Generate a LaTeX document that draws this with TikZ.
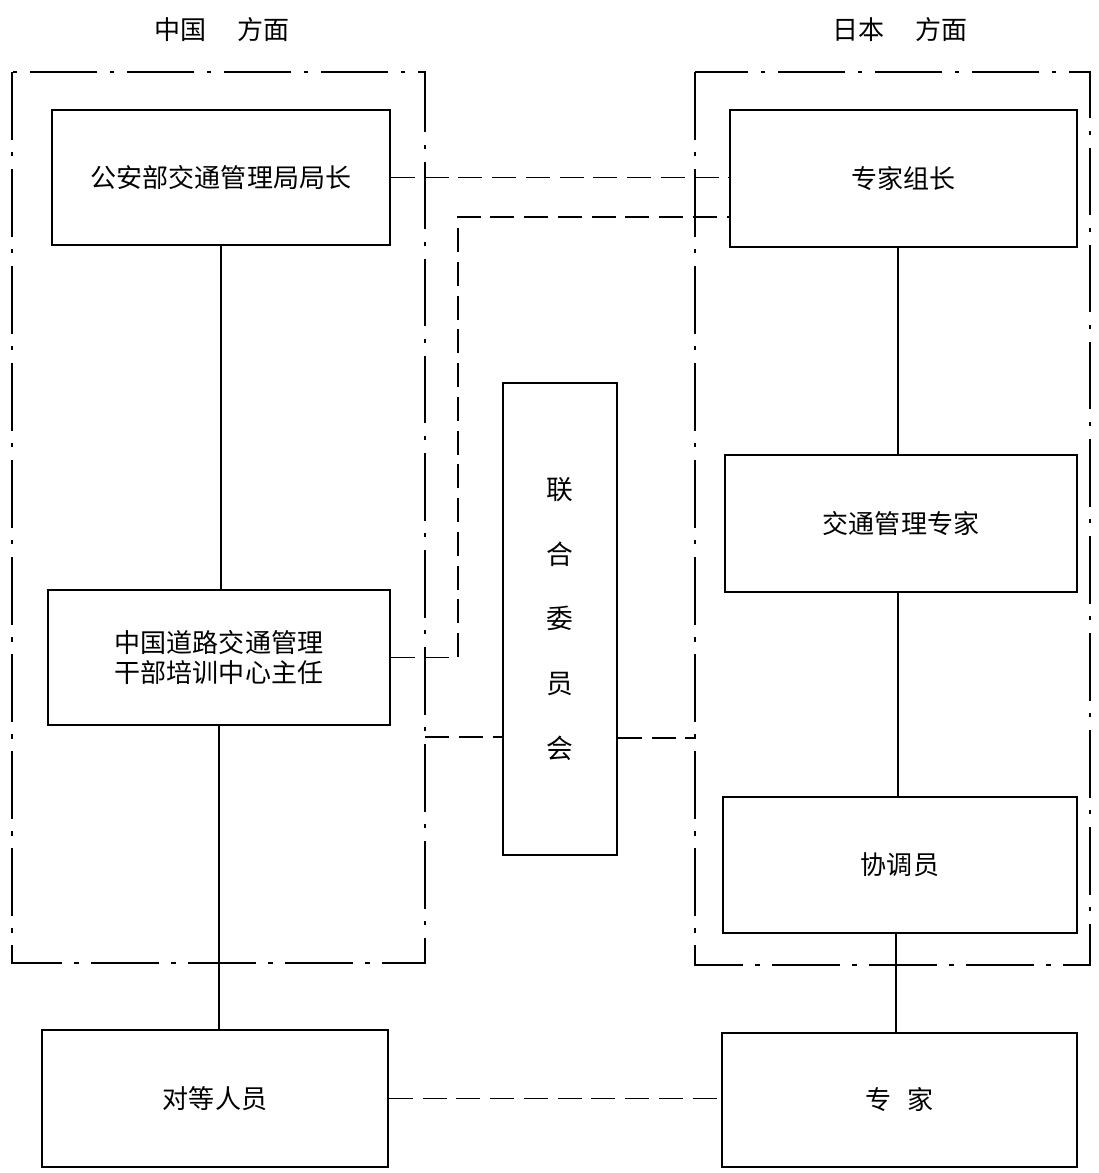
\documentclass[tikz,border=0pt]{standalone}
\usepackage{fontspec}
\setmainfont{Noto Sans CJK SC}
\usepackage{tikz}
\usetikzlibrary{arrows.meta,positioning,calc}

\begin{document}
\begin{tikzpicture}[
x=0.025cm,y=-0.025cm,
unit/.style={draw,line width=1.3pt,font=\fontsize{18.5}{22}\selectfont,align=center,inner sep=2pt},
frame/.style={line width=1.3pt,dash pattern=on 48pt off 9pt on 3pt off 9pt},
link/.style={line width=0.9pt,dash pattern=on 17pt off 7pt},
tie/.style={line width=1.1pt}
]
\useasboundingbox (0,0) rectangle (1099,1173);
% side frames
\draw[frame] (12,72) rectangle (425,963);
\draw[frame] (695,72) rectangle (1090,965);
\node[font=\fontsize{18.5}{22}\selectfont] (cnhead) at (222,30) {中国\hspace{1.2em}方面};
\node[font=\fontsize{18.5}{22}\selectfont] (jphead) at (900,30) {日本\hspace{1.2em}方面};
% Chinese side
\node[unit,minimum width=8.45cm,minimum height=3.375cm] (chief) at (221,177.5) {公安部交通管理局局长};
\node[unit,minimum width=8.55cm,minimum height=3.375cm] (centre) at (219,657.5) {中国道路交通管理\\干部培训中心主任};
\node[unit,minimum width=8.65cm,minimum height=3.425cm] (peer) at (215,1098.5) {对等人员};
% Japanese side
\node[unit,minimum width=8.675cm,minimum height=3.425cm] (leader) at (903.5,178.5) {专家组长};
\node[unit,minimum width=8.8cm,minimum height=3.425cm] (tmexp) at (901,523.5) {交通管理专家};
\node[unit,minimum width=8.85cm,minimum height=3.4cm] (coord) at (900,865) {协调员};
\node[unit,minimum width=8.875cm,minimum height=3.35cm] (expert) at (899.5,1100) {专\hspace{0.6em}家};
% joint committee
\node[unit,font=\fontsize{19}{46}\selectfont,minimum width=2.85cm,minimum height=11.8cm] (joint) at (560,619) {联\\合\\委\\员\\会};
\coordinate (bend) at (458,217);
\coordinate (cnedge) at (425,737);
\coordinate (jpedge) at (695,738);
% solid ties
\draw[tie] (chief.south) -- (chief.south |- centre.north);
\draw[tie] (centre.south) -- (centre.south |- peer.north);
\draw[tie] (tmexp.north -| 898,0) -- (leader.south -| 898,0);
\draw[tie] (tmexp.south -| 898,0) -- (coord.north -| 898,0);
\draw[tie] (coord.south -| 896,0) -- (expert.north -| 896,0);
% dashed links
\draw[link] (chief.east) -- (chief.east -| leader.west);
\draw[link] (centre.east) -| (bend) -- (bend -| leader.west);
\draw[link] (cnedge) -- (cnedge -| joint.west);
\draw[link] (joint.east |- jpedge) -- (jpedge);
\draw[link] (peer.east) -- (peer.east -| expert.west);
\end{tikzpicture}
\end{document}
